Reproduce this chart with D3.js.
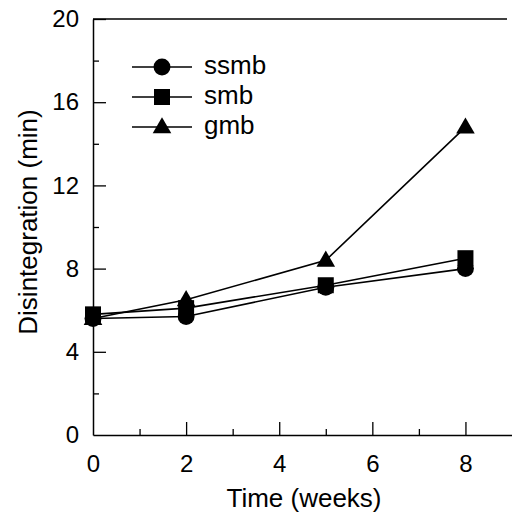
<!DOCTYPE html>
<html>
<head>
<meta charset="utf-8">
<script src="https://cdn.jsdelivr.net/npm/d3@7"></script>
<style>
  body { margin: 0; background: #fff; }
  svg { display: block; }
  text { font-family: "Liberation Sans", Arial, sans-serif; fill: #000; }
</style>
</head>
<body>
<svg id="chart" width="512" height="515"></svg>
<script>
// ---- data ----
const weeks = [0, 2, 5, 8];
const seriesNames = ["ssmb", "smb", "gmb"];
const ssmb = [5.6, 5.7, 7.1, 8.0];
const smb  = [5.8, 6.1, 7.2, 8.5];
const gmb  = [5.6, 6.5, 8.4, 14.8];
const xMajorTicks = [0, 2, 4, 6, 8];
const xMinorTicks = [1, 3, 5, 7];
const yMajorTicks = [0, 4, 8, 12, 16, 20];
const yMinorTicks = [2, 6, 10, 14, 18];

const series = [
  { name: "ssmb", values: ssmb, symbol: d3.symbolCircle, size: 225 },
  { name: "smb",  values: smb,  symbol: d3.symbolSquare, size: 256 },
  { name: "gmb",  values: gmb,  symbol: d3.symbolTriangle, size: 150 }
];

const svg = d3.select("#chart");
const x = d3.scaleLinear().domain([0, 9]).range([93, 512]);
const y = d3.scaleLinear().domain([0, 20]).range([435, 19]);

// top border
svg.append("line")
  .attr("x1", x(0)).attr("x2", 507)
  .attr("y1", y(20)).attr("y2", y(20))
  .attr("stroke", "#000").attr("stroke-width", 1.5);

// axes
const xAxis = svg.append("g").attr("transform", `translate(0,${y(0)})`)
  .call(d3.axisBottom(x).tickValues(xMajorTicks).tickSize(-13).tickSizeOuter(0).tickPadding(20).tickFormat(d3.format("d")));
const xMinor = svg.append("g").attr("transform", `translate(0,${y(0)})`)
  .call(d3.axisBottom(x).tickValues(xMinorTicks).tickSize(-6).tickSizeOuter(0).tickFormat(""));
const yAxis = svg.append("g").attr("transform", `translate(${x(0)},0)`)
  .call(d3.axisLeft(y).tickValues(yMajorTicks).tickSize(-13).tickSizeOuter(0).tickPadding(14).tickFormat(d3.format("d")));
const yMinor = svg.append("g").attr("transform", `translate(${x(0)},0)`)
  .call(d3.axisLeft(y).tickValues(yMinorTicks).tickSize(-6).tickSizeOuter(0).tickFormat(""));

[xAxis, xMinor, yAxis, yMinor].forEach(g => {
  g.attr("font-size", null).attr("font-family", null);
  g.selectAll("path.domain").attr("stroke", "#000").attr("stroke-width", 1.5);
  g.selectAll(".tick line").attr("stroke", "#000").attr("stroke-width", 1.3);
  g.selectAll(".tick text").style("font-size", "24px").attr("fill", "#000");
});
xMinor.select("path.domain").remove();
yMinor.select("path.domain").remove();
xAxis.selectAll(".tick").filter(d => d === 0).select("line").remove();
yAxis.selectAll(".tick").filter(d => d === 0).select("line").remove();

// axis titles
svg.append("text")
  .attr("x", 304).attr("y", 507)
  .attr("text-anchor", "middle")
  .style("font-size", "26px")
  .text("Time (weeks)");
svg.append("text")
  .attr("transform", `translate(37,222) rotate(-90)`)
  .attr("text-anchor", "middle")
  .style("font-size", "26px")
  .text("Disintegration (min)");

// lines
const line = d3.line().x((d, i) => x(weeks[i])).y(d => y(d));
series.forEach(s => {
  svg.append("path")
    .attr("d", line(s.values))
    .attr("fill", "none")
    .attr("stroke", "#000")
    .attr("stroke-width", 1.6);
});

// markers (draw gmb first, then ssmb, then smb)
const drawOrder = ["gmb", "ssmb", "smb"];
drawOrder.forEach(name => {
  const s = series.find(t => t.name === name);
  const sym = d3.symbol().type(s.symbol).size(s.size);
  svg.append("g").selectAll("path")
    .data(s.values)
    .join("path")
    .attr("d", sym)
    .attr("transform", (d, i) => `translate(${x(weeks[i])},${y(d) + (s.symbol === d3.symbolTriangle ? 1 : 0)})`)
    .attr("fill", "#000");
});

// legend
const legendY = [67, 97, 127];
series.forEach((s, i) => {
  const g = svg.append("g").attr("transform", `translate(0,${legendY[i]})`);
  g.append("line").attr("x1", 132).attr("x2", 192).attr("y1", 0).attr("y2", 0)
    .attr("stroke", "#000").attr("stroke-width", 1.5);
  g.append("path").attr("d", d3.symbol().type(s.symbol).size(s.size)())
    .attr("transform", `translate(162,${s.symbol === d3.symbolTriangle ? 1 : 0})`)
    .attr("fill", "#000");
  g.append("text").attr("x", 204).attr("y", 7)
    .style("font-size", "26px")
    .text(s.name);
});
</script>
</body>
</html>
